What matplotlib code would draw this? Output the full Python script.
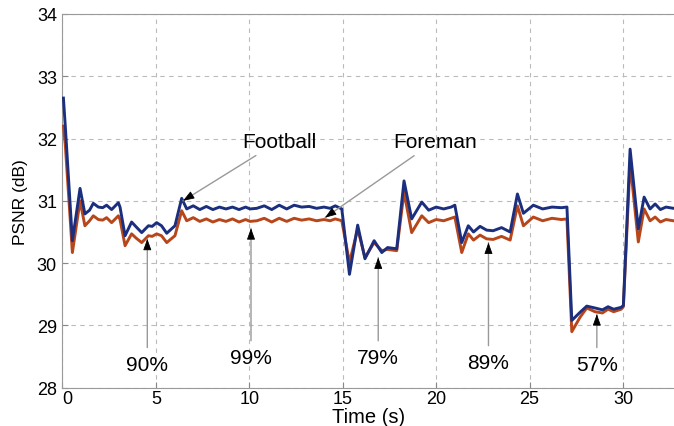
import numpy as np
import matplotlib.pyplot as plt

plt.rcParams['font.family'] = ['Liberation Sans', 'DejaVu Sans']

# time axis (s), shared by both sequences
time_s = [0.05, 0.15, 0.53, 0.94, 1.2, 1.45, 1.65, 1.92, 2.15, 2.36, 2.63, 2.99, 3.08,
          3.35, 3.7, 3.95, 4.24, 4.6, 4.8, 5.04, 5.3, 5.58, 6.02, 6.38, 6.65, 7.0,
          7.35, 7.7, 8.05, 8.4, 8.75, 9.1, 9.45, 9.8, 10.04, 10.4, 10.8, 11.2, 11.6,
          12.0, 12.4, 12.8, 13.2, 13.6, 14.0, 14.32, 14.6, 14.95, 15.36, 15.8, 16.19,
          16.68, 17.09, 17.4, 17.89, 18.28, 18.69, 19.23, 19.6, 20.0, 20.4, 20.8, 21.0,
          21.37, 21.72, 22.0, 22.35, 22.7, 23.05, 23.5, 23.96, 24.35, 24.67, 25.2,
          25.7, 26.2, 26.7, 27.0, 27.26, 27.7, 28.06, 28.5, 28.9, 29.2, 29.5, 29.9,
          30.02, 30.38, 30.82, 31.13, 31.45, 31.72, 32.0, 32.3, 32.7]

football = [32.65, 32.2, 30.36, 31.2, 30.79, 30.85, 30.96, 30.9, 30.89, 30.93, 30.86, 30.97, 30.9,
            30.44, 30.66, 30.58, 30.49, 30.6, 30.59, 30.65, 30.6, 30.48, 30.6, 31.04, 30.87, 30.92,
            30.86, 30.91, 30.86, 30.9, 30.87, 30.9, 30.86, 30.9, 30.87, 30.88, 30.92, 30.86, 30.93,
            30.87, 30.93, 30.9, 30.91, 30.88, 30.9, 30.88, 30.92, 30.87, 29.82, 30.61, 30.07,
            30.36, 30.17, 30.25, 30.23, 31.32, 30.71, 30.98, 30.85, 30.9, 30.87, 30.9, 30.93,
            30.33, 30.6, 30.5, 30.59, 30.53, 30.52, 30.57, 30.5, 31.11, 30.8, 30.93,
            30.87, 30.9, 30.89, 30.9, 29.08, 29.21, 29.31, 29.28, 29.25, 29.3, 29.26, 29.29,
            29.32, 31.83, 30.55, 31.06, 30.87, 30.95, 30.86, 30.9, 30.88]

foreman = [32.2, 31.9, 30.17, 31.0, 30.6, 30.68, 30.76, 30.7, 30.69, 30.73, 30.65, 30.76, 30.7,
           30.28, 30.47, 30.4, 30.33, 30.44, 30.43, 30.47, 30.44, 30.33, 30.44, 30.84, 30.68, 30.73,
           30.67, 30.71, 30.66, 30.7, 30.67, 30.71, 30.66, 30.7, 30.67, 30.68, 30.72, 30.66, 30.72,
           30.67, 30.72, 30.69, 30.71, 30.68, 30.7, 30.68, 30.71, 30.68, 30.01, 30.55, 30.09,
           30.33, 30.2, 30.22, 30.2, 31.14, 30.49, 30.76, 30.65, 30.7, 30.68, 30.72, 30.74,
           30.17, 30.47, 30.37, 30.45, 30.39, 30.38, 30.43, 30.37, 30.92, 30.6, 30.74,
           30.68, 30.72, 30.7, 30.71, 28.9, 29.13, 29.28, 29.22, 29.2, 29.26, 29.22, 29.26,
           29.3, 31.62, 30.34, 30.87, 30.68, 30.74, 30.66, 30.7, 30.68]

# annotations: label, arrow tip (t, psnr), text position (t, psnr)
note_labels = ['90%', '99%', '79%', '89%', '57%', 'Football', 'Foreman']
note_tip = [(4.54, 30.39), (10.09, 30.56), (16.9, 30.09), (22.8, 30.33), (28.6, 29.18),
            (6.45, 31.0), (14.05, 30.73)]
note_text = [(4.54, 28.38), (10.09, 28.49), (16.9, 28.49), (22.8, 28.41), (28.6, 28.38),
             (11.6, 31.96), (19.95, 31.96)]

fig = plt.figure(figsize=(6.74, 4.27), dpi=100)
ax = fig.add_axes([0.0927, 0.0897, 0.9073, 0.8752])

ax.plot(time_s, foreman, color='#b8461b', lw=2.1, zorder=3)
ax.plot(time_s, football, color='#1b2f7e', lw=2.1, zorder=4)

ax.set_xlim(0, 32.73)
ax.set_ylim(28, 34)
ax.set_xticks([0, 5, 10, 15, 20, 25, 30])
ax.set_yticks([28, 29, 30, 31, 32, 33, 34])
ax.tick_params(direction='in', length=4, labelsize=13, color='#888888')
ax.tick_params(axis='x', pad=2)
ax.tick_params(axis='y', pad=4)
ax.get_xticklabels()[0].set_horizontalalignment('left')
ax.grid(True, ls=(0, (4, 4)), color='#bbbbbb', lw=0.8)
for side in ['left', 'bottom', 'top']:
    ax.spines[side].set_color('#999999')
ax.spines['right'].set_visible(False)

ax.set_xlabel('Time (s)', fontsize=14.5, labelpad=0)
ax.set_ylabel('PSNR (dB)', fontsize=12.5, labelpad=6)

line_style = dict(arrowstyle='-', color='#999999', lw=1.0, shrinkA=3, shrinkB=0)
head_style = dict(arrowstyle='-|>,head_length=0.5,head_width=0.18', color='black',
                  lw=0.6, shrinkA=0, shrinkB=0, mutation_scale=14)

for lab, tip, pos in zip(note_labels, note_tip, note_text):
    ax.annotate(lab, xy=tip, xytext=pos, ha='center', va='center', fontsize=15,
                arrowprops=line_style, zorder=5)
    # black arrow head pointing along the leader line
    p_tip = ax.transData.transform(tip)
    p_txt = ax.transData.transform(pos)
    u = (p_txt - p_tip) / np.hypot(*(p_txt - p_tip))
    back = ax.transData.inverted().transform(p_tip + u * 8)
    ax.annotate('', xy=tip, xytext=back, arrowprops=head_style, zorder=6)

fig.savefig('out.png', dpi=100)
